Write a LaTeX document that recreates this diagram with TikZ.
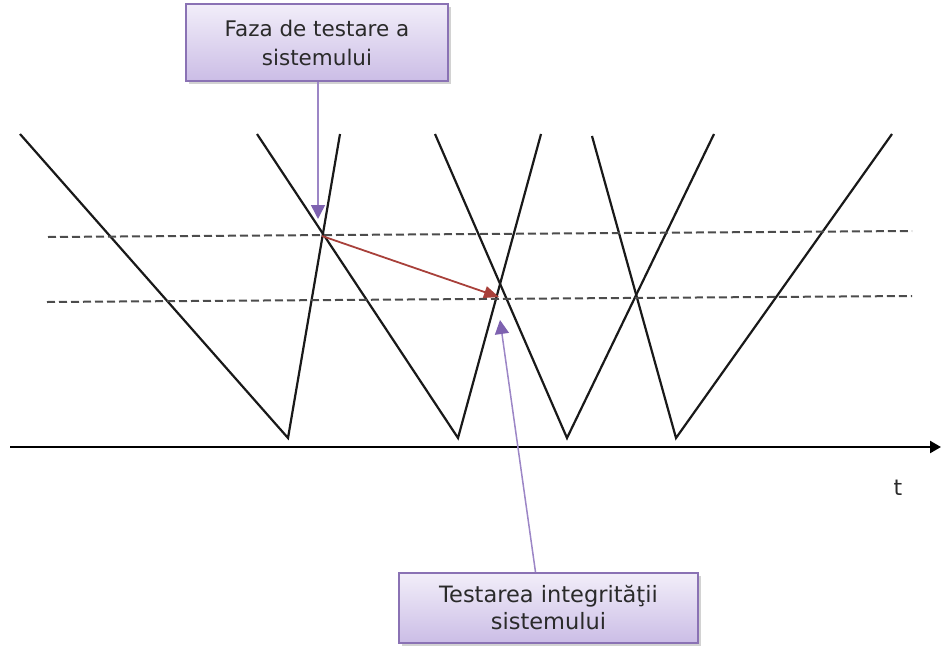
\documentclass[tikz,border=0pt]{standalone}
\usepackage{fontspec}
\setmainfont{DejaVu Sans}
\usetikzlibrary{arrows.meta,shadows,calc}
\definecolor{boxborder}{HTML}{8A72B4}
\definecolor{boxtop}{HTML}{F2EEF9}
\definecolor{boxbot}{HTML}{CBBDE6}
\definecolor{purpline}{HTML}{9C86C6}
\definecolor{purphead}{HTML}{7E62B0}
\definecolor{redarrow}{HTML}{A8403A}
\definecolor{txt}{HTML}{2A2A2A}
\tikzset{
  vline/.style={draw=black!90, line width=2.2pt, line join=miter},
  dline/.style={draw=black!70, line width=2pt, dash pattern=on 8pt off 4pt},
  labelbox/.style={draw=boxborder, line width=1.8pt, top color=boxtop, bottom color=boxbot,
    align=center, text=txt, inner sep=0pt,
    drop shadow={shadow xshift=2.5pt, shadow yshift=-2.5pt, fill=black!35, opacity=0.5}},
  purparrow/.style={draw=purpline, line width=1.5pt, -{Triangle[length=14pt,width=14pt,fill=purphead,color=purphead]}},
  redarr/.style={draw=redarrow, line width=1.8pt, -{Triangle[length=15pt,width=12pt]}},
  axis/.style={draw=black, line width=2.4pt, -{Triangle[length=11pt,width=12pt]}}
}
\begin{document}
\begin{tikzpicture}[x=1pt,y=-1pt]
\useasboundingbox (0,0) rectangle (941,645);
% V shapes
\coordinate (a1) at (20,134);  \coordinate (a2) at (288,438); \coordinate (a3) at (340,134);
\coordinate (b1) at (257,134); \coordinate (b2) at (458,438); \coordinate (b3) at (541,134);
\coordinate (c1) at (435,134); \coordinate (c2) at (567,438); \coordinate (c3) at (714,134);
\coordinate (d1) at (592,136); \coordinate (d2) at (676,438); \coordinate (d3) at (892,134);
\draw[vline] (a1) -- (a2) -- (a3);
\draw[vline] (b1) -- (b2) -- (b3);
\draw[vline] (c1) -- (c2) -- (c3);
\draw[vline] (d1) -- (d2) -- (d3);
% dashed levels
\coordinate (u1) at (48,237); \coordinate (u2) at (912,231);
\coordinate (l1) at (47,302); \coordinate (l2) at (912,296);
\draw[dline] (u1) -- (u2);
\draw[dline] (l1) -- (l2);
% time axis
\coordinate (t0) at (10,447); \coordinate (t1) at (941,447);
\draw[axis] (t0) -- (t1);
\node[font=\fontsize{22}{24}\selectfont, text=txt] (tl) at (898,488) {t};
% red arrow
\coordinate (p1) at (322,236); \coordinate (p2) at (499,297);
\draw[redarr] (p1) -- (p2);
% boxes
\node[labelbox, font=\fontsize{21.5}{29}\selectfont, minimum width=262pt, minimum height=77pt] (box1) at (317,42.5) {Faza de testare a\\sistemului};
\node[labelbox, font=\fontsize{22.5}{27}\selectfont, minimum width=299pt, minimum height=70pt] (box2) at (548.5,608) {Testarea integrităţii\\sistemului};
\coordinate (q1) at (318,219);
\coordinate (q2) at (500,320);
\draw[purparrow] (box1.south -| q1) -- (q1);
\draw[purparrow] ($(box2.north)+(-13,0)$) -- (q2);
\end{tikzpicture}
\end{document}
